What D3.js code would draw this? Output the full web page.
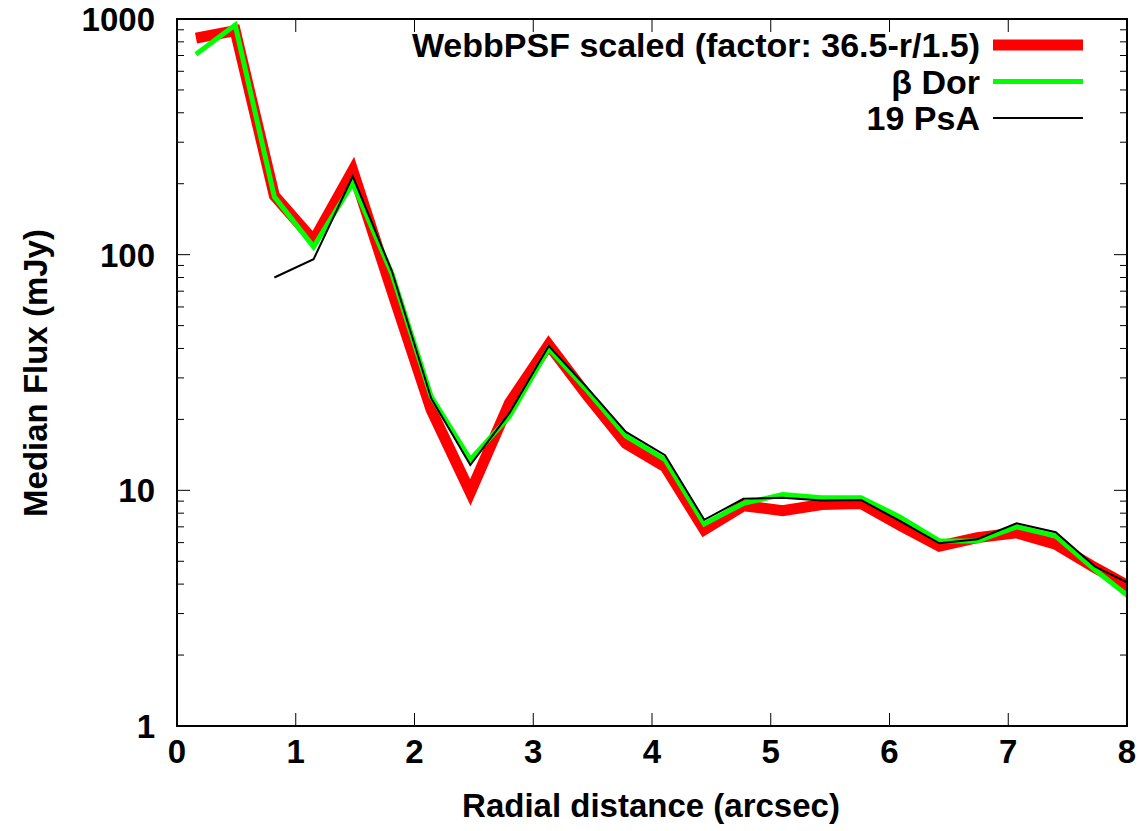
<!DOCTYPE html>
<html>
<head>
<meta charset="utf-8">
<script src="https://cdn.jsdelivr.net/npm/d3@7"></script>
<style>
  body { margin: 0; background: #fff; }
  text { font-family: "Liberation Sans", Arial, sans-serif; font-weight: bold; }
</style>
</head>
<body>
<script>
// radial distance of each annulus (arcsec)
const radius = [0.16, 0.49, 0.82, 1.15, 1.48, 1.81, 2.14, 2.47, 2.80, 3.13, 3.45, 3.78,
  4.11, 4.44, 4.77, 5.10, 5.43, 5.76, 6.09, 6.42, 6.74, 7.07, 7.40, 7.73, 8.06];

// median flux (mJy)
const webbpsf = [830, 892, 178, 115, 228, 70, 22, 9.8, 23.5, 41.5, 25.4, 15.8,
  12.6, 6.8, 8.6, 8.2, 8.7, 8.8, 7.1, 5.8, 6.3, 6.6, 5.9, 4.7, 3.8];
const betaDor = [708, 943, 176, 108, 201, 83, 25, 13.5, 20.6, 40, 26.7, 17.0,
  13.5, 7.2, 8.8, 9.6, 9.3, 9.3, 7.7, 6.1, 6.1, 7.0, 6.4, 4.6, 3.4];
const psa19 = [null, null, 80, 95.6, 215, 85, 24.6, 12.8, 21.3, 41, 27.4, 17.7,
  14.1, 7.5, 9.2, 9.3, 9.05, 9.1, 7.4, 5.96, 6.2, 7.25, 6.64, 4.75, 3.93];

const xTicks = [0, 1, 2, 3, 4, 5, 6, 7, 8];
const yTicks = [1, 10, 100, 1000];

const W = 1147, H = 831;
const pL = 177, pR = 1127, pT = 19, pB = 726;

const svg = d3.select('body')
  .append('svg')
  .attr('width', W)
  .attr('height', H);

const x = d3.scaleLinear().domain([0, 8]).range([pL, pR]);
const y = d3.scaleLog().domain([1, 1000]).range([pB, pT]);

svg.append('clipPath')
  .attr('id', 'plot-clip')
  .append('rect')
  .attr('x', pL)
  .attr('y', pT)
  .attr('width', pR - pL)
  .attr('height', pB - pT);

// minor log ticks
const minor = [];
for (let d = 1; d < 1000; d *= 10) {
  for (let m = 2; m <= 9; m++) minor.push(d * m);
}

const tickG = svg.append('g').attr('stroke', '#000').attr('stroke-width', 1);

minor.forEach(v => {
  tickG.append('line').attr('x1', pL).attr('x2', pL + 7).attr('y1', y(v)).attr('y2', y(v));
  tickG.append('line').attr('x1', pR).attr('x2', pR - 7).attr('y1', y(v)).attr('y2', y(v));
});
yTicks.forEach(v => {
  tickG.append('line').attr('x1', pL).attr('x2', pL + 13).attr('y1', y(v)).attr('y2', y(v));
  tickG.append('line').attr('x1', pR).attr('x2', pR - 13).attr('y1', y(v)).attr('y2', y(v));
});
xTicks.forEach(v => {
  tickG.append('line').attr('x1', x(v)).attr('x2', x(v)).attr('y1', pB).attr('y2', pB - 13);
  tickG.append('line').attr('x1', x(v)).attr('x2', x(v)).attr('y1', pT).attr('y2', pT + 13);
});

// tick labels
svg.append('g')
  .selectAll('text')
  .data(yTicks)
  .enter()
  .append('text')
  .attr('x', pL - 22)
  .attr('y', d => y(d) + 12)
  .attr('text-anchor', 'end')
  .attr('font-size', 33)
  .text(d => d);

svg.append('g')
  .selectAll('text')
  .data(xTicks)
  .enter()
  .append('text')
  .attr('x', d => x(d))
  .attr('y', pB + 37)
  .attr('text-anchor', 'middle')
  .attr('font-size', 33)
  .text(d => d);

// axis titles
svg.append('text')
  .attr('x', 651)
  .attr('y', 817)
  .attr('text-anchor', 'middle')
  .attr('font-size', 33)
  .text('Radial distance (arcsec)');

svg.append('text')
  .attr('transform', `translate(47, 373) rotate(-90)`)
  .attr('text-anchor', 'middle')
  .attr('font-size', 33)
  .text('Median Flux (mJy)');

// series
const series = [
  {name: 'WebbPSF scaled (factor: 36.5-r/1.5)', values: webbpsf, color: '#ff0000', width: 11},
  {name: 'β Dor', values: betaDor, color: '#00ff00', width: 5},
  {name: '19 PsA', values: psa19, color: '#000000', width: 2}
];

const line = d3.line()
  .defined(d => d[1] != null)
  .x(d => x(d[0]))
  .y(d => y(d[1]));

const plot = svg.append('g').attr('clip-path', 'url(#plot-clip)');

series.forEach(s => {
  plot.append('path')
    .datum(radius.map((r, i) => [r, s.values[i]]))
    .attr('fill', 'none')
    .attr('stroke', s.color)
    .attr('stroke-width', s.width)
    .attr('stroke-linejoin', 'miter')
    .attr('stroke-miterlimit', 10)
    .attr('d', line);
});

// legend
series.forEach((s, i) => {
  const ly = 45 + i * 36.5;
  svg.append('text')
    .attr('x', 980)
    .attr('y', ly + 12)
    .attr('text-anchor', 'end')
    .attr('font-size', 34)
    .text(s.name);
  svg.append('line')
    .attr('x1', 993)
    .attr('x2', 1083)
    .attr('y1', ly)
    .attr('y2', ly)
    .attr('stroke', s.color)
    .attr('stroke-width', s.width);
});

// frame
svg.append('rect')
  .attr('x', pL)
  .attr('y', pT)
  .attr('width', pR - pL)
  .attr('height', pB - pT)
  .attr('fill', 'none')
  .attr('stroke', '#000')
  .attr('stroke-width', 2);
</script>
</body>
</html>
